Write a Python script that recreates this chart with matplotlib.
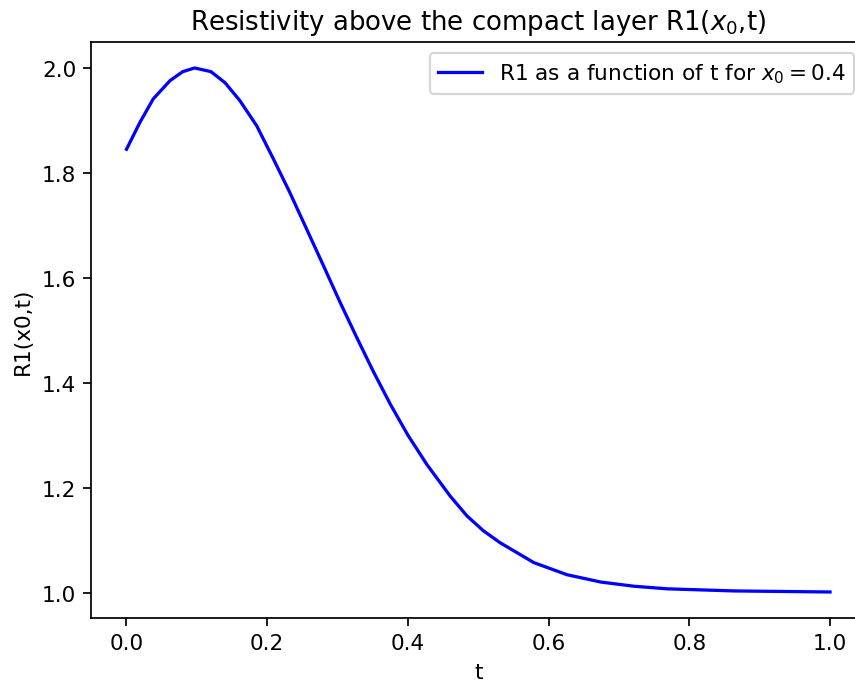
import matplotlib
matplotlib.use("Agg")
import matplotlib.pyplot as plt

# values
t = [0.0, 0.019, 0.038, 0.062, 0.080, 0.097, 0.120, 0.140, 0.161, 0.185,
     0.209, 0.232, 0.256, 0.280, 0.303, 0.327, 0.351, 0.375, 0.400, 0.427,
     0.460, 0.484, 0.507, 0.531, 0.579, 0.626, 0.674, 0.721, 0.769, 0.864,
     1.0]
r1 = [1.845, 1.896, 1.941, 1.976, 1.993, 2.000, 1.993, 1.972, 1.938, 1.890,
      1.826, 1.763, 1.693, 1.623, 1.555, 1.487, 1.421, 1.359, 1.300, 1.244,
      1.184, 1.146, 1.118, 1.095, 1.057, 1.034, 1.020, 1.012, 1.007, 1.003,
      1.001]

x0 = 0.4

# original looks like a default figure rendered at ~156 dpi and cropped on the right
dpi = 156
fig = plt.figure(figsize=(855 / dpi, 682 / dpi), dpi=dpi)
ax = fig.add_axes([0.1068, 0.0921, 0.9051, 0.8452])

ax.plot(t, r1, color="blue", label=f"R1 as a function of t for $x_0 = {x0}$")
ax.set_title("Resistivity above the compact layer R1($x_0$,t)")
ax.set_xlabel("t")
ax.set_ylabel("R1(x0,t)")
ax.legend(loc="upper right")

fig.savefig("out.png", dpi=dpi)
